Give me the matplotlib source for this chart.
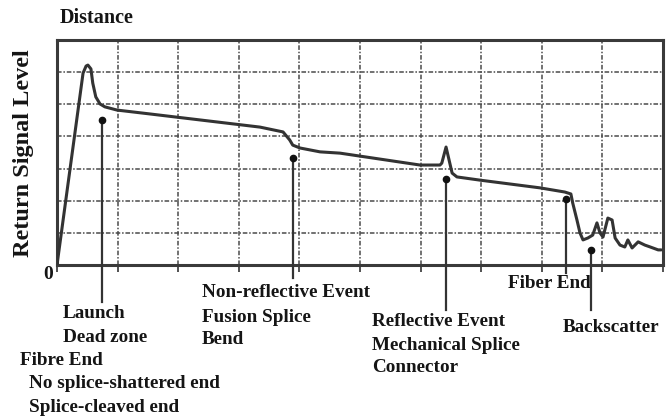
import matplotlib
matplotlib.use("Agg")
import matplotlib.pyplot as plt

# OTDR trace: distance (grid divisions) vs return signal level (grid divisions)
trace_x = [0, 0.43, 0.48, 0.51, 0.56, 0.59, 0.64, 0.71, 0.79, 0.99, 1.53,
           3.35, 3.73, 3.84, 3.89, 4.01, 4.34, 4.67,
           5.99, 6.32, 6.35, 6.42, 6.52, 6.60, 6.98,
           7.97, 8.38, 8.48, 8.51, 8.58, 8.63, 8.68, 8.76, 8.84, 8.91, 8.96,
           9.01, 9.09, 9.16, 9.21, 9.29, 9.37, 9.42, 9.49, 9.59, 9.70, 9.79,
           9.92, 9.97]
trace_y = [0, 5.97, 6.19, 6.22, 6.10, 5.66, 5.23, 5.01, 4.92, 4.82, 4.70,
           4.29, 4.14, 3.89, 3.73, 3.64, 3.52, 3.48,
           3.11, 3.11, 3.17, 3.67, 2.86, 2.74, 2.64,
           2.40, 2.27, 2.21, 1.93, 1.40, 1.00, 0.78, 0.84, 0.93, 1.31, 1.00,
           0.87, 1.46, 1.40, 0.84, 0.62, 0.56, 0.78, 0.53, 0.72, 0.62, 0.56,
           0.47, 0.47]

# event markers: position on the trace and where the leader line stops below the axis
event_names = ["Launch", "Fusion Splice", "Reflective", "Fiber End", "Backscatter"]
event_x = [0.74, 3.89, 6.42, 8.40, 8.81]
event_y = [4.51, 3.33, 2.68, 2.05, 0.47]
leader_end = [-1.15, -0.40, -1.40, -0.25, -1.40]

# label text blocks (x, y in axis units, text)
labels = [
    (0.10, -1.52, "Launch"),
    (0.10, -2.27, "Dead zone"),
    (-0.61, -2.96, "Fibre End"),
    (-0.46, -3.70, "No splice-shattered end"),
    (-0.46, -4.42, "Splice-cleaved end"),
    (2.39, -0.87, "Non-reflective Event"),
    (2.39, -1.62, "Fusion Splice"),
    (2.39, -2.33, "Bend"),
    (5.20, -1.77, "Reflective Event"),
    (5.20, -2.52, "Mechanical Splice"),
    (5.20, -3.20, "Connector"),
    (7.44, -0.56, "Fiber End"),
    (8.35, -1.93, "Backscatter"),
]

plt.rcParams["font.family"] = ["Liberation Serif", "DejaVu Serif"]
plt.rcParams["font.weight"] = "bold"
ink = "#151515"

fig = plt.figure(figsize=(6.67, 4.18), dpi=100)
W, H = 667, 418
left, right, top, bottom = 57, 663, 40, 265
ax = fig.add_axes([left / W, 1 - bottom / H, (right - left) / W, (bottom - top) / H])

ax.set_xlim(0, 10)
ax.set_ylim(0, 7)
ax.set_xticks(range(11))
ax.set_yticks(range(8))
ax.set_xticklabels([])
ax.set_yticklabels([])
ax.tick_params(axis="x", direction="out", length=5, width=1.2, color="#333")
ax.tick_params(axis="y", length=0)
ax.grid(True, color="#4a4a4a", linewidth=1.1, linestyle=(0, (3, 1.2, 1, 1.2)))
for s in ax.spines.values():
    s.set_color("#3a3a3a")
    s.set_linewidth(2.2)

ax.plot(trace_x, trace_y, color="#333", linewidth=2.2, solid_joinstyle="round",
        solid_capstyle="round", zorder=3)

for x, y, y0 in zip(event_x, event_y, leader_end):
    ax.plot([x, x], [y, y0], color="#333", linewidth=1.6, clip_on=False, zorder=4)
    ax.plot([x], [y], "o", color="#111", markersize=4.5, clip_on=False, zorder=5)

for x, y, t in labels:
    ax.text(x, y, t, ha="left", va="center", fontsize=13.8, color=ink,
            fontweight="bold", clip_on=False)

ax.text(-0.15, -0.31, "0", ha="center", va="center", fontsize=14, color=ink,
        fontweight="bold", clip_on=False)

fig.text(60 / W, 1 - 18 / H, "Distance", ha="left", va="center", fontsize=14.5,
         color=ink, fontweight="bold")
fig.text(24 / W, 1 - 153 / H, "Return Signal Level", ha="center", va="center",
         rotation=90, fontsize=17.5, color=ink, fontweight="bold")

fig.savefig("out.png", dpi=100)
